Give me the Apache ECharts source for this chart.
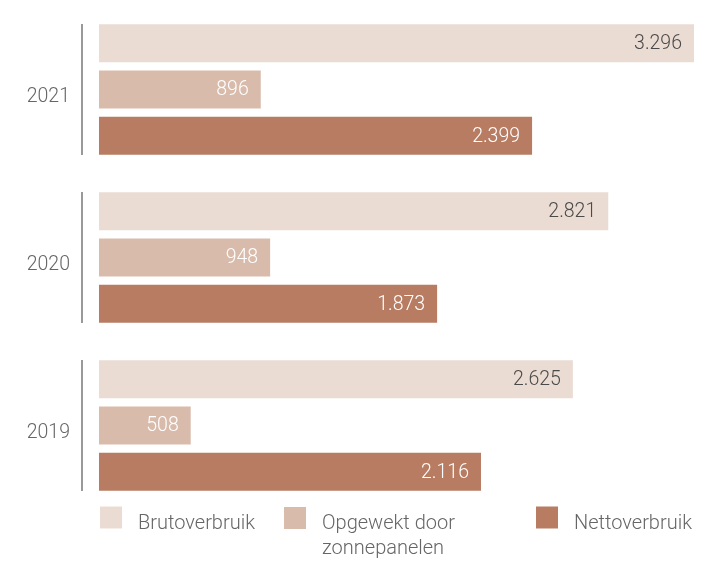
<!DOCTYPE html>
<html>
<head>
<meta charset="utf-8">
<script src="https://cdn.jsdelivr.net/npm/echarts@6/dist/echarts.min.js"></script>
<style>
  html, body { margin: 0; padding: 0; background: #fff; }
  #chart { width: 711px; height: 561px; }
</style>
</head>
<body>
<div id="chart"></div>
<script>
// Energy use per year (kWh): gross use, solar generation, net use
const years = ['2021', '2020', '2019'];
const brutoverbruik = [3296, 2821, 2625];
const opgewekt = [896, 948, 508];
const nettoverbruik = [2399, 1873, 2116];
const seriesNames = ['Brutoverbruik', 'Opgewekt door zonnepanelen', 'Nettoverbruik'];
const legendLines = [['Brutoverbruik'], ['Opgewekt door', 'zonnepanelen'], ['Nettoverbruik']];

const colors = ['#ebdcd3', '#d9bbab', '#b77c62'];
const FONT = 'Roboto, "Noto Sans", sans-serif';

// Dutch thousands separator
const fmt = v => v.toLocaleString('nl-NL');

const chart = echarts.init(document.getElementById('chart'), null, { renderer: 'canvas' });

function barSeries(name, data, color, labelColor) {
  return {
    name: name,
    type: 'bar',
    data: data,
    barWidth: 38,
    barGap: '22%',
    itemStyle: { color: color },
    emphasis: { disabled: true },
    label: {
      show: true,
      position: 'insideRight',
      distance: 12,
      offset: [0, 1],
      color: labelColor,
      fontFamily: FONT,
      fontSize: 19.5,
      fontWeight: 300,
      formatter: p => fmt(p.value)
    }
  };
}

// Legend entry: a small spacer line on top pushes the first text line
// a little below the centre of the square; extra lines wrap underneath.
function legendEntry(i, left, top) {
  const lines = legendLines[i];
  const spacer = 12 + (lines.length - 1) * 25;
  return {
    orient: 'horizontal',
    padding: 0,
    icon: 'rect',
    itemWidth: 22,
    itemHeight: 22,
    selectedMode: false,
    left: left,
    top: top,
    data: [seriesNames[i]],
    formatter: () => '{s| }\n' + lines.map(l => '{a|' + l + '}').join('\n'),
    textStyle: {
      color: '#666',
      fontFamily: FONT,
      fontSize: 20,
      fontWeight: 300,
      padding: [0, 0, 0, 11],
      rich: {
        s: { fontSize: 4, lineHeight: spacer },
        a: { color: '#666', fontFamily: FONT, fontSize: 20, fontWeight: 300, lineHeight: 25 }
      }
    }
  };
}

chart.setOption({
  animation: false,
  backgroundColor: '#fff',
  grid: { left: 99, right: 17, top: 5.5, bottom: 51.5, containLabel: false },
  xAxis: {
    type: 'value',
    min: 0,
    max: 3296,
    show: false
  },
  yAxis: {
    type: 'category',
    data: years,
    inverse: true,
    axisLine: { show: false },
    axisTick: { show: false },
    axisLabel: {
      margin: 29,
      color: '#666',
      fontFamily: FONT,
      fontSize: 19.5,
      fontWeight: 300,
      verticalAlign: 'top',
      lineHeight: 16
    }
  },
  legend: [
    legendEntry(0, 100, 503),
    legendEntry(1, 284, 491),
    legendEntry(2, 536, 503)
  ],
  series: [
    barSeries(seriesNames[0], brutoverbruik, colors[0], '#4a4a4a'),
    barSeries(seriesNames[1], opgewekt, colors[1], '#ffffff'),
    barSeries(seriesNames[2], nettoverbruik, colors[2], '#ffffff'),
    {
      // short vertical rule to the left of each year's group of bars
      type: 'custom',
      silent: true,
      data: years.map(y => [0, y]),
      encode: { x: 0, y: 1 },
      renderItem: function (params, api) {
        const pt = api.coord([0, api.value(1)]);
        const band = api.size([0, 1])[1];
        const half = band * 0.39;
        return {
          type: 'line',
          shape: { x1: pt[0] - 17, y1: pt[1] - half, x2: pt[0] - 17, y2: pt[1] + half },
          style: { stroke: '#777', lineWidth: 1.5 }
        };
      }
    }
  ]
});
</script>
</body>
</html>
